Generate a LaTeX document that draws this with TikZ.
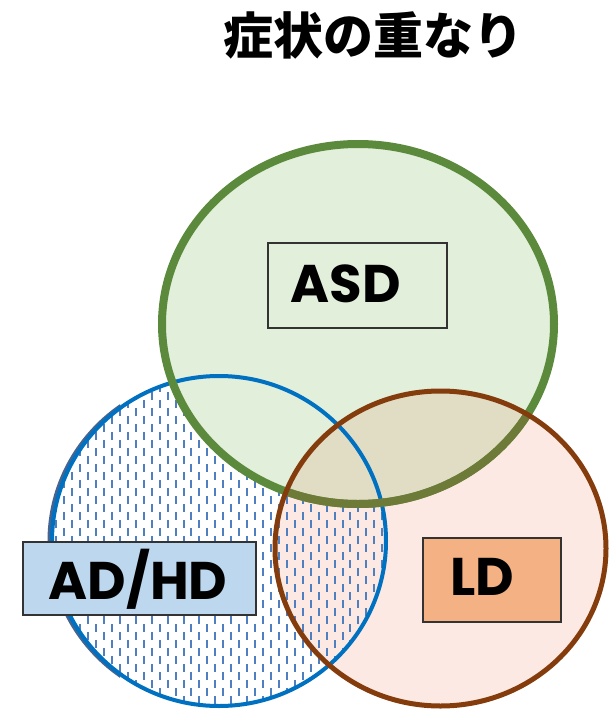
\documentclass[tikz,border=0pt]{standalone}
\usepackage{fontspec}
\newfontfamily\cjk{Noto Sans CJK JP}
\newfontfamily\lat{Poppins}
\definecolor{grn}{HTML}{5B8A3C}
\definecolor{grnfill}{HTML}{E2EFDA}
\definecolor{olive}{HTML}{6E7A38}
\definecolor{blu}{HTML}{0070C0}
\definecolor{blushadow}{HTML}{46648F}
\definecolor{dashcol}{HTML}{4F7FBF}
\definecolor{brn}{HTML}{843C0C}
\definecolor{pinkfill}{HTML}{FCE9E3}
\definecolor{overlap}{HTML}{E1DCC4}
\definecolor{adbox}{HTML}{BDD7EE}
\definecolor{ldbox}{HTML}{F4B183}
\definecolor{boxline}{HTML}{333333}
\tikzset{
  labelbox/.style={draw=boxline, line width=1.3pt, inner sep=0pt},
  labeltext/.style={font=\lat\bfseries\fontsize{53}{53}\selectfont, anchor=base, inner sep=0pt},
}
\begin{document}
\begin{tikzpicture}[x=1pt,y=-1pt]
\useasboundingbox (0,0) rectangle (610,712);
% brown circle fill
\fill[pinkfill] (440.5,548.5) ellipse [x radius=165.5, y radius=157.5];
% dashes in blue circle
\begin{scope}
  \clip (219,541) ellipse [x radius=167, y radius=165];
  \foreach \i in {0,...,43}{
    \pgfmathsetmacro{\xx}{48.35+7.95*\i}
    \pgfmathsetmacro{\ys}{352+8*mod(\i,2)}
    \draw[dashcol, line width=2pt, dash pattern=on 8pt off 8pt] (\xx,\ys) -- (\xx,720);
  }
\end{scope}
% green fill
\fill[grnfill] (358,324) ellipse [x radius=196, y radius=180];
% overlap green/brown
\begin{scope}
  \clip (358,324) ellipse [x radius=196, y radius=180];
  \fill[overlap] (440.5,548.5) ellipse [x radius=165.5, y radius=157.5];
\end{scope}
% outlines
\begin{scope}
  \clip (0,380) rectangle (120,700);
  \draw[blushadow, line width=3pt] (216,541) ellipse [x radius=167, y radius=165];
\end{scope}
\draw[blu, line width=4pt] (219,541) ellipse [x radius=167, y radius=165];
\draw[grn, line width=8pt] (358,324) ellipse [x radius=196, y radius=180];
\begin{scope}
  \clip (440.5,548.5) ellipse [x radius=165.5, y radius=157.5];
  \draw[olive, line width=8pt] (358,324) ellipse [x radius=196, y radius=180];
\end{scope}
\draw[brn, line width=5pt] (440.5,548.5) ellipse [x radius=165.5, y radius=157.5];
% title
\node[font=\cjk\bfseries\fontsize{50}{50}\selectfont, inner sep=0pt] (title) at (373,35) {症状の重なり};
% boxes
\node[labelbox, minimum width=179pt, minimum height=85pt] (asdbox) at (357.5,285.5) {};
\node[labeltext] (asd) at (345.5,302) {ASD};
\node[labelbox, fill=adbox, minimum width=233pt, minimum height=73pt] (adbox) at (139.5,578.5) {};
\node[labeltext] (adhd) at (138,599) {AD/HD};
\node[labelbox, fill=ldbox, minimum width=138pt, minimum height=84pt] (ldbox) at (492,580) {};
\node[labeltext] (ld) at (482,595) {LD};
\end{tikzpicture}
\end{document}
